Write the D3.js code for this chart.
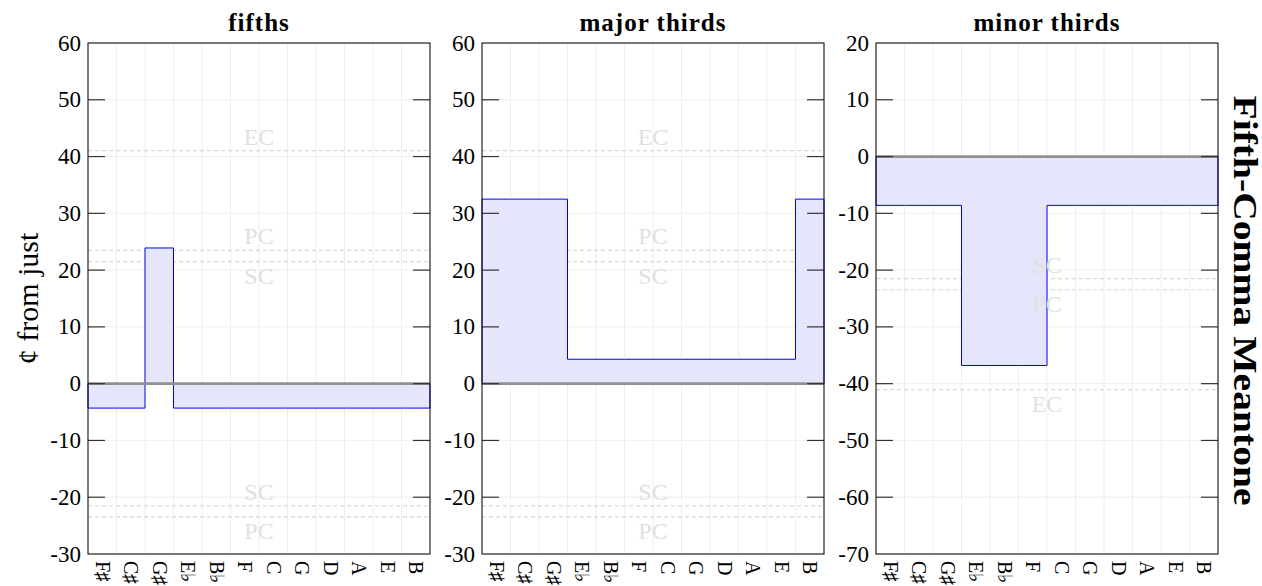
<!DOCTYPE html>
<html>
<head>
<meta charset="utf-8">
<script src="https://cdn.jsdelivr.net/npm/d3@7"></script>
<style>
  html, body { margin: 0; padding: 0; background: #fff; }
  svg { display: block; }
  text { font-family: "Liberation Serif", "Times New Roman", serif; fill: #000; }
</style>
</head>
<body>
<svg id="chart" width="1262" height="586"></svg>
<script>
// ---- data ----
const notes = ["F♯", "C♯", "G♯", "E♭", "B♭", "F", "C", "G", "D", "A", "E", "B"];
const panelTitles = ["fifths", "major thirds", "minor thirds"];
const fifths = [-4.3, -4.3, 23.9, -4.3, -4.3, -4.3, -4.3, -4.3, -4.3, -4.3, -4.3, -4.3];
const majorThirds = [32.5, 32.5, 32.5, 4.3, 4.3, 4.3, 4.3, 4.3, 4.3, 4.3, 4.3, 32.5];
const minorThirds = [-8.6, -8.6, -8.6, -36.8, -36.8, -36.8, -8.6, -8.6, -8.6, -8.6, -8.6, -8.6];
const yDomains = [[-30, 60], [-30, 60], [-70, 20]];
const yTicks1 = [-30, -20, -10, 0, 10, 20, 30, 40, 50, 60];
const yTicks3 = [-70, -60, -50, -40, -30, -20, -10, 0, 10, 20];
const commaNames = ["EC", "PC", "SC"];
const commaValues = [41.06, 23.46, 21.51];
const yLabel = "¢ from just";
const sideLabel = "Fifth-Comma Meantone";

const series = [fifths, majorThirds, minorThirds];
const tickSets = [yTicks1, yTicks1, yTicks3];

// ---- layout ----
const svg = d3.select("#chart");
const panelX = [[88, 430], [482, 824], [876, 1218]];
const plotTop = 43, plotBottom = 554;
const tickLen = 17;

const commas = [];
commaNames.forEach((n, i) => {
  commas.push({ name: n, value: commaValues[i] });
  commas.push({ name: n, value: -commaValues[i] });
});

series.forEach((vals, p) => {
  const [x0, x1] = panelX[p];
  const x = d3.scaleLinear().domain([0, notes.length]).range([x0, x1]);
  const y = d3.scaleLinear().domain(yDomains[p]).range([plotBottom, plotTop]);
  const g = svg.append("g");
  const ticks = tickSets[p];

  // grid
  g.append("g").selectAll("line").data(ticks).join("line")
    .attr("x1", x0).attr("x2", x1)
    .attr("y1", d => y(d)).attr("y2", d => y(d))
    .attr("stroke", "#eeeeee").attr("stroke-width", 1);
  g.append("g").selectAll("line").data(d3.range(1, notes.length)).join("line")
    .attr("x1", d => x(d)).attr("x2", d => x(d))
    .attr("y1", plotTop).attr("y2", plotBottom)
    .attr("stroke", "#eeeeee").attr("stroke-width", 1);

  // comma reference lines
  const [lo, hi] = yDomains[p];
  const vis = commas.filter(c => c.value > lo && c.value < hi);
  g.append("g").selectAll("line").data(vis).join("line")
    .attr("x1", x0).attr("x2", x1)
    .attr("y1", d => y(d.value)).attr("y2", d => y(d.value))
    .attr("stroke", "#d8d8d8").attr("stroke-width", 1.2)
    .attr("stroke-dasharray", "4,3");

  // step area
  const pts = vals.map((v, i) => ({ i, v })).concat([{ i: notes.length, v: vals[vals.length - 1] }]);
  const area = d3.area().curve(d3.curveStepAfter)
    .x(d => x(d.i)).y0(y(0)).y1(d => y(d.v));
  g.append("path").datum(pts)
    .attr("d", area)
    .attr("fill", "#e5e5fc")
    .attr("stroke", "#0000f0").attr("stroke-width", 1);

  // comma labels
  g.append("g").selectAll("text").data(vis).join("text")
    .attr("x", (x0 + x1) / 2)
    .attr("y", d => {
      const away = d.name !== "SC";
      const above = (d.value > 0) === away;
      return above ? y(d.value) - 6 : y(d.value) + 22;
    })
    .attr("text-anchor", "middle")
    .style("font-size", "24px")
    .style("fill", "#e0e0e0")
    .text(d => d.name);

  // zero line
  g.append("line")
    .attr("x1", x0).attr("x2", x1).attr("y1", y(0)).attr("y2", y(0))
    .attr("stroke", "#909090").attr("stroke-width", 2.8);

  // ticks (inside, both sides)
  const inner = ticks.filter(t => t > lo && t < hi);
  g.append("g").selectAll("line").data(inner).join("line")
    .attr("x1", x0).attr("x2", x0 + tickLen)
    .attr("y1", d => y(d)).attr("y2", d => y(d))
    .attr("stroke", "#333").attr("stroke-width", 1.2);
  g.append("g").selectAll("line").data(inner).join("line")
    .attr("x1", x1 - tickLen).attr("x2", x1)
    .attr("y1", d => y(d)).attr("y2", d => y(d))
    .attr("stroke", "#333").attr("stroke-width", 1.2);

  // frame
  g.append("rect")
    .attr("x", x0).attr("y", plotTop).attr("width", x1 - x0).attr("height", plotBottom - plotTop)
    .attr("fill", "none").attr("stroke", "#111").attr("stroke-width", 1.1);

  // y tick labels
  g.append("g").selectAll("text").data(ticks).join("text")
    .attr("x", x0 - 7).attr("y", d => y(d))
    .attr("text-anchor", "end").attr("dominant-baseline", "central")
    .style("font-size", "23px")
    .text(d => String(d));

  // x labels (rotated)
  g.append("g").selectAll("text").data(notes).join("text")
    .attr("transform", (d, i) => `translate(${x(i + 0.5)},${plotBottom + 7}) rotate(90)`)
    .attr("text-anchor", "start").attr("dy", "0.32em")
    .style("font-size", "20px")
    .text(d => d);

  // title
  g.append("text")
    .attr("x", (x0 + x1) / 2).attr("y", 31)
    .attr("text-anchor", "middle")
    .style("font-size", "25px").style("font-weight", "bold")
    .style("letter-spacing", "1px")
    .text(panelTitles[p]);
});

// y axis label
svg.append("text")
  .attr("transform", `translate(38,${(plotTop + plotBottom) / 2}) rotate(-90)`)
  .attr("text-anchor", "middle")
  .style("font-size", "30px")
  .text(yLabel);

// side label
svg.append("text")
  .attr("transform", `translate(1234,${(plotTop + plotBottom) / 2 + 2}) rotate(90)`)
  .attr("text-anchor", "middle")
  .attr("textLength", 410).attr("lengthAdjust", "spacingAndGlyphs")
  .style("font-size", "33px").style("font-weight", "bold")
  .text(sideLabel);
</script>
</body>
</html>
